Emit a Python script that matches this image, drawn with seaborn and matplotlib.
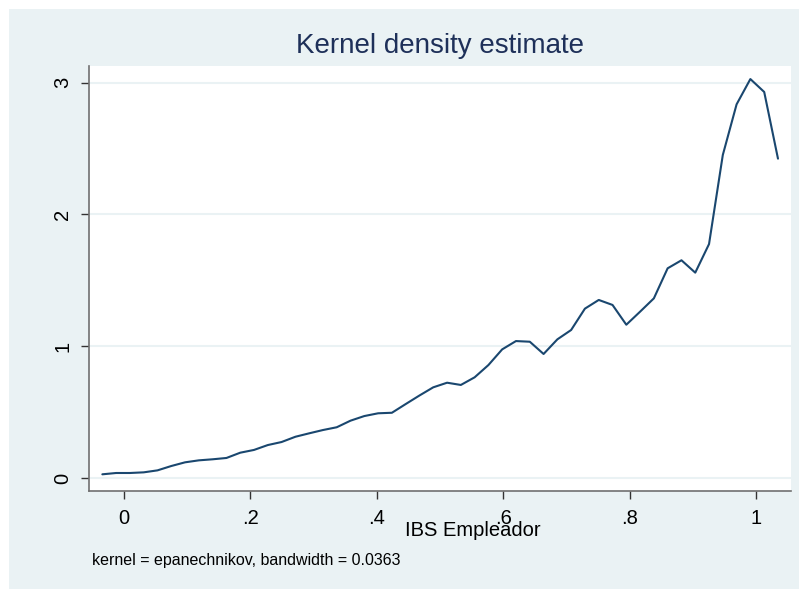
import matplotlib
matplotlib.use("Agg")
import matplotlib.pyplot as plt
import seaborn as sns
import pandas as pd
from matplotlib.patches import Rectangle

# Data
ibs_x = [-0.0343, -0.0125, 0.0093, 0.0312, 0.0530, 0.0748, 0.0966, 0.1184, 0.1403, 0.1621,
         0.1839, 0.2057, 0.2275, 0.2493, 0.2712, 0.2930, 0.3148, 0.3366, 0.3584, 0.3802,
         0.4021, 0.4239, 0.4457, 0.4675, 0.4893, 0.5112, 0.5330, 0.5548, 0.5766, 0.5984,
         0.6202, 0.6421, 0.6639, 0.6857, 0.7075, 0.7293, 0.7512, 0.7730, 0.7948, 0.8166,
         0.8384, 0.8602, 0.8821, 0.9039, 0.9257, 0.9475, 0.9693, 0.9911, 1.0130, 1.0348]
density = [0.028, 0.038, 0.038, 0.043, 0.058, 0.091, 0.119, 0.134, 0.142, 0.152,
           0.192, 0.213, 0.250, 0.273, 0.313, 0.339, 0.364, 0.385, 0.435, 0.470,
           0.491, 0.495, 0.561, 0.626, 0.688, 0.723, 0.706, 0.764, 0.857, 0.976,
           1.039, 1.034, 0.941, 1.052, 1.123, 1.285, 1.351, 1.313, 1.163, 1.262,
           1.363, 1.591, 1.652, 1.558, 1.775, 2.451, 2.835, 3.027, 2.929, 2.423]
x_ticks = [0, 0.2, 0.4, 0.6, 0.8, 1.0]
x_tick_labels = ["0", ".2", ".4", ".6", ".8", "1"]
y_ticks = [0, 1, 2, 3]
y_tick_labels = ["0", "1", "2", "3"]
title = "Kernel density estimate"
x_title = "IBS Empleador"
note = "kernel = epanechnikov, bandwidth = 0.0363"

df = pd.DataFrame({"x": ibs_x, "y": density})

sns.set_theme(style="white")
plt.rcParams["font.family"] = ["Liberation Sans", "DejaVu Sans"]

W, H = 799, 589
fig = plt.figure(figsize=(W / 100, H / 100), dpi=100)
fig.patch.set_facecolor("white")
bg = "#EAF2F4"
fig.patches.append(Rectangle((9 / W, 0), 1 - 9 / W, 1 - 9 / H, transform=fig.transFigure,
                             facecolor=bg, edgecolor="none", zorder=-10))

L, R, T, B = 89, 791, 66, 491
ax = fig.add_axes([L / W, 1 - B / H, (R - L) / W, (B - T) / H])
ax.set_facecolor("white")

navy = "#1A476F"
sns.lineplot(data=df, x="x", y="y", ax=ax, color=navy, linewidth=1.5, zorder=3)

ax.set_xlim(-0.0554, 1.0554)
ax.set_ylim(-0.0986, 3.126)
ax.set_xticks(x_ticks)
ax.set_xticklabels(x_tick_labels)
ax.set_yticks(y_ticks)
ax.set_yticklabels(y_tick_labels, rotation=90, va="center")
ax.set_xlabel("")
ax.set_ylabel("")

ax.grid(False)
for yv in y_ticks:
    ax.axhline(yv, color=bg, linewidth=1.5, zorder=1)

for s in ["top", "right"]:
    ax.spines[s].set_visible(False)
for s in ["left", "bottom"]:
    ax.spines[s].set_color("#707070")
    ax.spines[s].set_linewidth(1.2)

ax.tick_params(axis="both", which="major", direction="out", length=6, width=1.0,
               color="#333333", labelsize=14.5, labelcolor="black", pad=7,
               left=True, bottom=True)
ax.tick_params(axis="y", pad=6)

fig.text(440 / W, 1 - 46 / H, title, ha="center", va="center", fontsize=20,
         color="#1E3059")
fig.text(473 / W, 1 - 531 / H, x_title, ha="center", va="center", fontsize=14.5,
         color="black")
fig.text(92 / W, 1 - 561 / H, note, ha="left", va="center", fontsize=11.5,
         color="black")

fig.savefig("out.png", dpi=100, facecolor=fig.get_facecolor())
